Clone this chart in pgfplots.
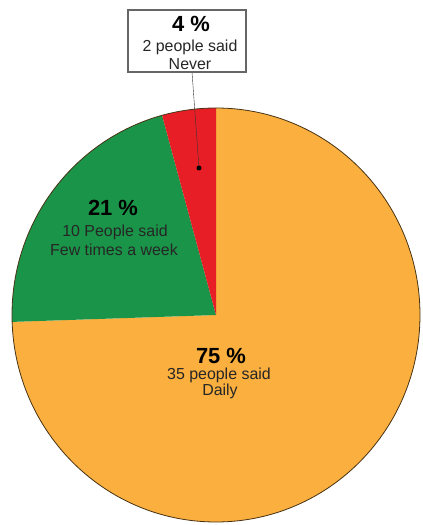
\documentclass[border=0pt]{standalone}
\usepackage{pgfplots}
\pgfplotsset{compat=1.18}
\usepackage{pgfplotstable}
\usepackage{fontspec}
\setmainfont{Liberation Sans}

\definecolor{daily}{RGB}{250,175,62}
\definecolor{weekly}{RGB}{26,148,72}
\definecolor{never}{RGB}{232,30,38}
\definecolor{rim}{RGB}{70,50,20}

% answers to "how often?"
\pgfplotstableread{
answer count
Daily 35
Weekly 10
Never 2
}\answers

\newcommand\pctlabel[1]{{\fontsize{22}{24}\selectfont\bfseries #1}}
\newcommand\saidlabel[1]{{\fontsize{16}{18}\selectfont\color{black!85} #1}}

\begin{document}
\begin{tikzpicture}[every node/.style={inner sep=0pt}]
\pgfplotstablegetelem{0}{count}\of\answers \let\cDaily\pgfplotsretval
\pgfplotstablegetelem{1}{count}\of\answers \let\cWeekly\pgfplotsretval
\pgfplotstablegetelem{2}{count}\of\answers \let\cNever\pgfplotsretval
\pgfmathsetmacro\total{\cDaily+\cWeekly+\cNever}
% slice boundaries, clockwise from 12 o'clock
\pgfmathsetmacro\aA{90-360*\cDaily/\total}
\pgfmathsetmacro\aB{\aA-360*\cWeekly/\total}
\pgfmathsetmacro\aC{\aB-360*\cNever/\total}
\def\cx{216}\def\cy{210}\def\rx{204}\def\ry{207}
\begin{axis}[width=423bp,height=525bp,scale only axis,
  xmin=0,xmax=423,ymin=0,ymax=525,hide axis,clip=false]
  % keep the full canvas as the picture's extent
  \path (axis cs:0,0) rectangle (axis cs:423,525);
  \fill[daily] (axis cs:\cx,\cy) -- (axis cs:{\cx+\rx*cos(90)},{\cy+\ry*sin(90)})
    arc[start angle=90,end angle=\aA,x radius=\rx bp,y radius=\ry bp] -- cycle;
  \fill[weekly] (axis cs:\cx,\cy) -- (axis cs:{\cx+\rx*cos(\aA)},{\cy+\ry*sin(\aA)})
    arc[start angle=\aA,end angle=\aB,x radius=\rx bp,y radius=\ry bp] -- cycle;
  \fill[never] (axis cs:\cx,\cy) -- (axis cs:{\cx+\rx*cos(\aB)},{\cy+\ry*sin(\aB)})
    arc[start angle=\aB,end angle=\aC,x radius=\rx bp,y radius=\ry bp] -- cycle;
  \draw[rim,line width=0.8pt] (axis cs:\cx,\cy) ellipse[x radius=\rx bp,y radius=\ry bp];

  % slice labels
  \node at (axis cs:113,317) {\pctlabel{21 \%}};
  \node at (axis cs:115,293) {\saidlabel{10 People said}};
  \node at (axis cs:114,275) {\saidlabel{Few times a week}};
  \node at (axis cs:221,169) {\pctlabel{75 \%}};
  \node at (axis cs:219,150) {\saidlabel{35 people said}};
  \node at (axis cs:220,134) {\saidlabel{Daily}};

  % call-out for the thin slice
  \draw[black!80] (axis cs:192,453) -- (axis cs:199,357);
  \fill[black] (axis cs:199,357) circle[radius=2.5bp];
  \draw[black!60,line width=1.2pt,fill=white] (axis cs:128,453) rectangle (axis cs:246,515);
  \node at (axis cs:191,501) {\pctlabel{4 \%}};
  \node at (axis cs:190,478) {\saidlabel{2 people said}};
  \node at (axis cs:190,461) {\saidlabel{Never}};
\end{axis}
\end{tikzpicture}
\end{document}
